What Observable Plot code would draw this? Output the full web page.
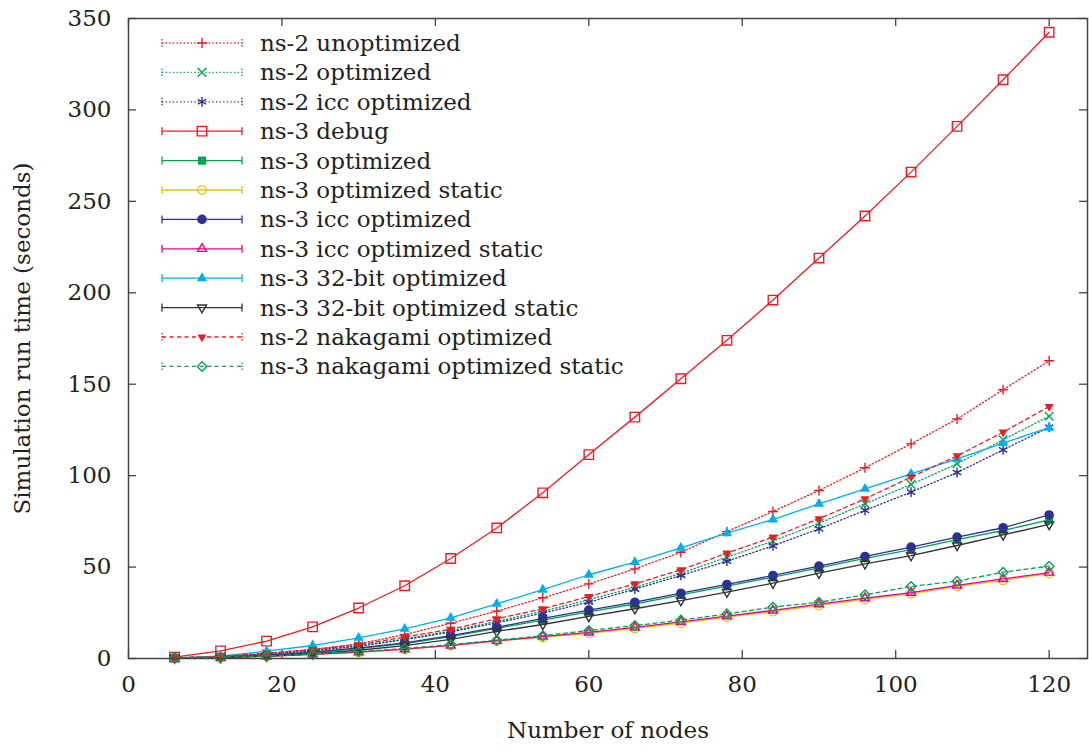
<!DOCTYPE html>
<html><head><meta charset="utf-8">
<script src="https://cdn.jsdelivr.net/npm/d3@7"></script>
<script src="https://cdn.jsdelivr.net/npm/@observablehq/plot@0.6"></script>
<style>body{margin:0;background:#fff} svg{display:block}</style>
</head><body><div id="chart"></div>
<script>
// ---- data ----
const nodes = [6,12,18,24,30,36,42,48,54,60,66,72,78,84,90,96,102,108,114,120];
const ns2Unoptimized   = [0.4,1.2,2.8,5.0,8.0,13.1,19.3,25.9,33.2,40.8,49.0,58.1,69.4,80.4,91.9,104.3,117.4,131.0,147.0,162.8];
const ns2Optimized     = [0.3,1.0,2.5,4.4,7.0,10.7,15.0,20.3,25.8,32.2,38.9,46.6,55.4,64.2,74.0,84.6,95.2,106.5,119.6,132.5];
const ns2IccOptimized  = [0.3,1.0,2.4,4.2,6.7,10.3,14.5,19.5,24.8,30.8,37.9,45.4,53.2,61.6,70.9,81.0,91.0,101.7,114.1,126.5];
const ns3Debug         = [0.8,4.2,9.5,17.3,27.6,39.8,54.7,71.4,90.6,111.5,132.0,153.0,174.0,196.0,219.0,242.0,266.0,291.0,316.5,342.5];
const ns3Optimized     = [0.2,0.6,1.6,3.2,5.4,8.2,12.0,16.5,21.0,25.5,29.8,34.8,39.6,44.5,49.5,54.8,59.6,65.0,70.0,75.8];
const ns3OptStatic     = [0.2,0.5,1.2,2.2,3.4,5.0,7.0,9.5,11.6,13.8,16.5,19.3,22.6,25.7,29.0,32.3,35.4,39.4,42.7,46.5];
const ns3IccOptimized  = [0.2,0.7,1.8,3.5,5.8,8.5,12.5,17.0,22.0,26.5,30.8,35.7,40.5,45.4,50.5,55.8,60.9,66.4,71.5,78.5];
const ns3IccOptStatic  = [0.2,0.5,1.2,2.3,3.5,5.1,7.2,9.7,12.0,14.3,17.0,20.0,23.2,26.3,29.7,33.0,36.0,40.0,43.5,47.0];
const ns3Bit32Opt      = [0.3,1.3,4.0,7.1,11.3,16.2,22.2,29.9,37.6,45.8,52.7,60.5,68.5,76.0,84.6,92.8,101.0,109.2,117.8,126.2];
const ns3Bit32Static   = [0.2,0.5,1.3,2.6,4.5,7.0,10.5,14.8,18.6,23.0,27.2,31.7,36.3,41.2,46.7,51.8,56.3,61.8,67.6,73.3];
const ns2Nakagami      = [0.3,1.2,2.8,4.8,7.5,11.7,16.0,21.7,27.2,33.9,40.8,48.5,57.6,66.4,76.4,87.3,99.2,110.8,123.8,137.8];
const ns3NakagamiStatic= [0.2,0.6,1.4,2.5,3.8,5.5,7.6,10.0,12.5,15.3,18.0,21.0,24.4,28.1,30.8,34.8,39.4,42.3,47.2,50.5];

const seriesNames = ["ns-2 unoptimized","ns-2 optimized","ns-2 icc optimized","ns-3 debug","ns-3 optimized",
  "ns-3 optimized static","ns-3 icc optimized","ns-3 icc optimized static","ns-3 32-bit optimized",
  "ns-3 32-bit optimized static","ns-2 nakagami optimized","ns-3 nakagami optimized static"];
const seriesValues = [ns2Unoptimized,ns2Optimized,ns2IccOptimized,ns3Debug,ns3Optimized,ns3OptStatic,
  ns3IccOptimized,ns3IccOptStatic,ns3Bit32Opt,ns3Bit32Static,ns2Nakagami,ns3NakagamiStatic];
const seriesColors = ["#ed1c24","#00a651","#2e3192","#ed1c24","#00a651","#e3c21a","#2e3192","#ec008c","#00aeef","#333333","#ed1c24","#00a651"];
const seriesDash   = ["1.3 2.3","1.3 2.3","1.3 2.3",null,null,null,null,null,null,null,"4 3.5","4 3.5"];
const seriesSymbol = ["plus","times","asterisk","square2","square","circle","circle","triangle2","triangle","down","down","diamond2"];
const seriesFilled = [false,false,false,false,true,false,true,false,true,false,true,false];
const seriesR      = [3.3,4.0,4.6,6.0,4.6,4.4,4.8,4.3,3.8,4.3,4.3,4.3];

const xTicks = [0,20,40,60,80,100,120];
const yTicks = [0,50,100,150,200,250,300,350];
const xTitle = "Number of nodes";
const yTitle = "Simulation run time (seconds)";

// down-pointing triangle symbol
const triangleDown = {
  draw(ctx, size) {
    const s = Math.sqrt(size) * 0.6824, t = s / 2, u = s * Math.sqrt(3) / 2;
    ctx.moveTo(0, s); ctx.lineTo(u, -t); ctx.lineTo(-u, -t); ctx.closePath();
  }
};
const symOf = s => s === "down" ? triangleDown : s;

// ---- layout ----
const W = 1089, H = 753, mL = 128, mR = 2, mT = 18, mB = 95;
const fw = W - mL - mR, fh = H - mT - mB, tk = 8;
const axisColor = "#444";
const font = "DejaVu Serif";
const fs = 23;

const marks = [];
seriesNames.forEach((name, i) => {
  const rows = nodes.map((n, j) => ({x: n, y: seriesValues[i][j]}));
  marks.push(Plot.line(rows, {x: "x", y: "y", stroke: seriesColors[i], strokeWidth: 1.3,
    strokeDasharray: seriesDash[i] ?? undefined}));
  marks.push(Plot.dot(rows, {x: "x", y: "y", symbol: symOf(seriesSymbol[i]), r: seriesR[i],
    stroke: seriesFilled[i] ? "none" : seriesColors[i], fill: seriesFilled[i] ? seriesColors[i] : "none",
    strokeWidth: 1.4}));
});

const chart = Plot.plot({
  width: W, height: H, marginLeft: mL, marginRight: mR, marginTop: mT, marginBottom: mB,
  x: {domain: [0, 125]},
  y: {domain: [0, 350]},
  style: {fontFamily: `"${font}"`, fontSize: fs + "px", color: "#222", background: "white"},
  marks: [
    Plot.axisX({ticks: xTicks, tickSize: 0, tickPadding: 17, label: null, fontSize: fs, tickFormat: d => d}),
    Plot.axisY({ticks: yTicks, tickSize: 0, tickPadding: 17, label: null, fontSize: fs, tickFormat: d => d}),
    Plot.tickX(xTicks, {x: d => d, insetTop: fh - tk, stroke: axisColor, strokeWidth: 1.3}),
    Plot.tickX(xTicks, {x: d => d, insetBottom: fh - tk, stroke: axisColor, strokeWidth: 1.3}),
    Plot.tickY(yTicks, {y: d => d, insetRight: fw - tk, stroke: axisColor, strokeWidth: 1.3}),
    Plot.tickY(yTicks, {y: d => d, insetLeft: fw - tk, stroke: axisColor, strokeWidth: 1.3}),
    ...marks,
    Plot.frame({stroke: axisColor, strokeWidth: 1.5}),
    Plot.text([xTitle], {frameAnchor: "bottom", dy: 72, fontSize: fs, fill: "#222", textAnchor: "middle", lineAnchor: "middle"}),
    Plot.text([yTitle], {frameAnchor: "left", dx: -106, rotate: -90, fontSize: fs, fill: "#222", textAnchor: "middle", lineAnchor: "middle"})
  ]
});

// ---- legend ----
const svg = d3.select(chart);
const lg = svg.append("g").attr("font-family", font).attr("font-size", fs).attr("fill", "#222")
  .attr("text-anchor", "start");
const lx0 = 162, lx1 = 242, lmx = 202, ltx = 260, ly0 = 43, ldy = 29.4;
seriesNames.forEach((name, i) => {
  const y = ly0 + i * ldy;
  const g = lg.append("g");
  g.append("line").attr("x1", lx0).attr("x2", lx1).attr("y1", y).attr("y2", y)
    .attr("stroke", seriesColors[i]).attr("stroke-width", 1.3)
    .attr("stroke-dasharray", seriesDash[i]);
  [lx0, lx1].forEach(cx => g.append("line").attr("x1", cx).attr("x2", cx).attr("y1", y - 4).attr("y2", y + 4)
    .attr("stroke", seriesColors[i]).attr("stroke-width", 1.3).attr("stroke-dasharray", seriesDash[i] ? "1.5 1.5" : null));
  const sym = symOf(seriesSymbol[i]);
  const type = typeof sym === "string" ? d3["symbol" + sym[0].toUpperCase() + sym.slice(1)] : sym;
  g.append("path").attr("transform", `translate(${lmx},${y})`)
    .attr("d", d3.symbol(type, Math.PI * seriesR[i] ** 2)())
    .attr("fill", seriesFilled[i] ? seriesColors[i] : "none")
    .attr("stroke", seriesFilled[i] ? "none" : seriesColors[i]).attr("stroke-width", 1.4);
  g.append("text").attr("x", ltx).attr("y", y).attr("dy", "0.35em").attr("text-anchor", "start").text(name);
});

document.getElementById("chart").appendChild(chart);
</script>
</body></html>
